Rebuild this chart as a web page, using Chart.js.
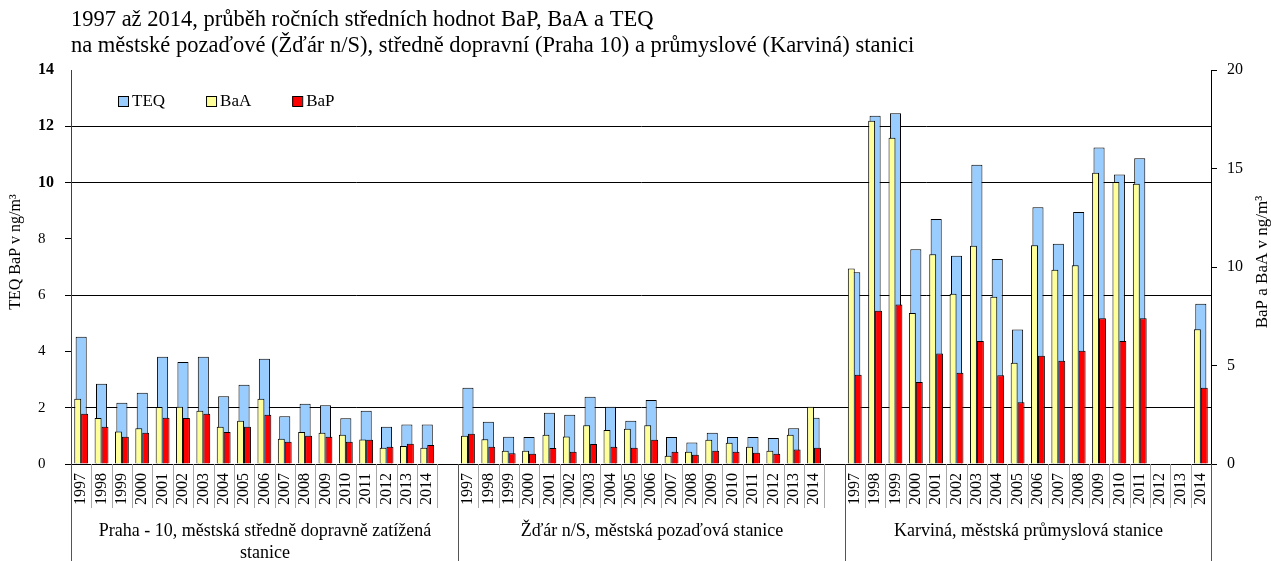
<!DOCTYPE html>
<html lang="cs">
<head>
<meta charset="UTF-8">
<title>BaP, BaA a TEQ 1997 až 2014</title>
<style>
  * { margin: 0; padding: 0; box-sizing: border-box; }
  body { background: #fff; width: 1271px; height: 561px; overflow: hidden; }
  #wrap { position: relative; width: 1271px; height: 561px; }
</style>
</head>
<body>
<div id="wrap"><canvas id="chart" width="1271" height="561"></canvas></div>
<script src="https://cdn.jsdelivr.net/npm/chart.js@4.4.1/dist/chart.umd.min.js"></script>
<script>
const years = ['1997', '1998', '1999', '2000', '2001', '2002', '2003', '2004', '2005',
  '2006', '2007', '2008', '2009', '2010', '2011', '2012', '2013', '2014'];

// station names, split into the lines they are printed on
const stations = [
  ['Praha - 10, městská středně dopravně zatížená', 'stanice'],
  ['Žďár n/S, městská pozaďová stanice'],
  ['Karviná, městská průmyslová stanice']
];

const teqPraha = [4.52, 2.85, 2.18, 2.53, 3.81, 3.62, 3.81, 2.41, 2.82, 3.74, 1.70, 2.14, 2.09, 1.63, 1.89, 1.32, 1.40, 1.40];
const baaPraha = [3.31, 2.33, 1.65, 1.82, 2.89, 2.91, 2.70, 1.89, 2.20, 3.31, 1.28, 1.62, 1.59, 1.49, 1.25, 0.83, 0.91, 0.83];
const bapPraha = [2.55, 1.89, 1.38, 1.59, 2.35, 2.33, 2.55, 1.62, 1.89, 2.50, 1.13, 1.44, 1.38, 1.13, 1.23, 0.88, 1.03, 0.96];

const teqZdar = [2.71, 1.50, 0.97, 0.96, 1.82, 1.75, 2.39, 2.03, 1.54, 2.27, 0.96, 0.76, 1.11, 0.96, 0.96, 0.92, 1.27, 1.64];
const baaZdar = [1.44, 1.26, 0.67, 0.67, 1.49, 1.39, 1.97, 1.72, 1.79, 1.97, 0.42, 0.62, 1.23, 1.08, 0.88, 0.67, 1.49, 2.91];
const bapZdar = [1.54, 0.88, 0.54, 0.52, 0.81, 0.62, 1.01, 0.88, 0.83, 1.23, 0.62, 0.47, 0.67, 0.62, 0.57, 0.52, 0.73, 0.83];

const teqKarvina = [6.81, 12.37, 12.46, 7.63, 8.71, 7.40, 10.63, 7.28, 4.78, 9.12, 7.83, 8.95, 11.25, 10.29, 10.86, null, null, 5.69];
const baaKarvina = [9.92, 17.42, 16.56, 7.66, 10.65, 8.64, 11.08, 8.49, 5.14, 11.11, 9.86, 10.09, 14.78, 14.32, 14.22, null, null, 6.84];
const bapKarvina = [4.53, 7.78, 8.10, 4.16, 5.61, 4.63, 6.24, 4.51, 3.14, 5.49, 5.24, 5.75, 7.40, 6.24, 7.40, null, null, 3.87];

const teqTicks = [0, 2, 4, 6, 8, 10, 12, 14];
const teqGridLines = [2, 6, 10, 12];   // only these have a line across the plot
const baTicks = [0, 5, 10, 15, 20];

const titleLines = [
  '1997 až 2014, průběh ročních středních hodnot BaP, BaA a TEQ',
  'na městské pozaďové (Žďár n/S), středně dopravní (Praha 10) a průmyslové (Karviná) stanici'
];
const leftTitle = 'TEQ BaP v ng/m³';
const rightTitle = 'BaP a BaA v ng/m³';

// one blank category between the stations
const labels = [];
const groupStart = [];
function joinSeries(parts) {
  const out = [];
  parts.forEach((p, i) => {
    out.push(...p);
    if (i < parts.length - 1) out.push(null);
  });
  return out;
}
stations.forEach((s, i) => {
  groupStart.push(labels.length);
  labels.push(...years);
  if (i < stations.length - 1) labels.push('');
});

const FONT = "'Liberation Serif', 'Times New Roman', serif";

const decor = {
  id: 'decor',
  afterDraw(chart) {
    const { ctx, chartArea: a, scales: { x } } = chart;
    const step = x.getPixelForValue(1) - x.getPixelForValue(0);
    const edge = i => Math.round(x.getPixelForValue(i) - step / 2) + 0.5;
    ctx.save();

    // cells round the year labels
    ctx.lineWidth = 1;
    ctx.strokeStyle = '#a8a8a8';
    for (let i = 1; i < labels.length; i++) {
      if (groupStart.includes(i)) continue;
      ctx.beginPath();
      ctx.moveTo(edge(i), a.bottom);
      ctx.lineTo(edge(i), a.bottom + 44);
      ctx.stroke();
    }
    // station separators, full height of the axis
    ctx.strokeStyle = '#555';
    const bounds = groupStart.map(edge).concat([Math.round(a.right) + 0.5]);
    bounds.forEach(b => {
      ctx.beginPath();
      ctx.moveTo(b, a.bottom);
      ctx.lineTo(b, chart.height);
      ctx.stroke();
    });

    // station names
    ctx.fillStyle = '#000';
    ctx.font = '18px ' + FONT;
    ctx.textAlign = 'center';
    ctx.textBaseline = 'middle';
    stations.forEach((lines, i) => {
      const cx = (bounds[i] + bounds[i + 1]) / 2;
      lines.forEach((t, j) => ctx.fillText(t, cx, a.bottom + 67 + j * 22));
    });

    // legend inside the plot
    ctx.font = '17px ' + FONT;
    ctx.textAlign = 'left';
    let lx = a.left + 47;
    const ly = 101;
    chart.data.datasets.forEach(ds => {
      ctx.fillStyle = ds.backgroundColor;
      ctx.fillRect(lx, ly - 5, 10, 10);
      ctx.strokeStyle = '#000';
      ctx.strokeRect(lx + 0.5, ly - 4.5, 10, 10);
      ctx.fillStyle = '#000';
      ctx.fillText(ds.label, lx + 14, ly + 1);
      lx += 14 + ctx.measureText(ds.label).width + 41;
    });

    // title
    ctx.font = '22.5px ' + FONT;
    titleLines.forEach((t, i) => ctx.fillText(t, a.left, 20 + i * 26));

    // axis titles, both read upwards
    ctx.textAlign = 'center';
    ctx.font = '16px ' + FONT;
    ctx.translate(16, 252);
    ctx.rotate(-Math.PI / 2);
    ctx.fillText(leftTitle, 0, 0);
    ctx.setTransform(1, 0, 0, 1, 0, 0);
    ctx.font = '17px ' + FONT;
    ctx.translate(1263, 262);
    ctx.rotate(-Math.PI / 2);
    ctx.fillText(rightTitle, 0, 0);
    ctx.restore();
  }
};

new Chart(document.getElementById('chart'), {
  type: 'bar',
  data: {
    labels: labels,
    datasets: [
      {
        label: 'TEQ',
        data: joinSeries([teqPraha, teqZdar, teqKarvina]),
        yAxisID: 'y',
        backgroundColor: '#99ccff',
        borderColor: '#000',
        borderWidth: 1,
        grouped: false,
        barPercentage: 0.68,
        order: 3
      },
      {
        label: 'BaA',
        data: joinSeries([baaPraha, baaZdar, baaKarvina]),
        yAxisID: 'y1',
        backgroundColor: '#ffff99',
        borderColor: '#000',
        borderWidth: 1,
        categoryPercentage: 0.68,
        barPercentage: 1,
        order: 1
      },
      {
        label: 'BaP',
        data: joinSeries([bapPraha, bapZdar, bapKarvina]),
        yAxisID: 'y1',
        backgroundColor: '#ff0000',
        borderColor: '#000',
        borderWidth: 1,
        categoryPercentage: 0.68,
        barPercentage: 1,
        order: 2
      }
    ]
  },
  options: {
    responsive: false,
    animation: false,
    layout: { padding: { top: 70, left: 38, right: 0, bottom: 0 } },
    plugins: {
      legend: { display: false },
      tooltip: { enabled: false },
      title: { display: false }
    },
    scales: {
      x: {
        grid: { display: false, drawTicks: false },
        border: { display: true, color: '#000' },
        ticks: {
          autoSkip: false,
          minRotation: 90,
          maxRotation: 90,
          padding: 9,
          color: '#000',
          font: { family: FONT, size: 16 }
        },
        afterFit: s => { s.height = 97; }
      },
      y: {
        position: 'left',
        min: 0,
        max: 14,
        afterBuildTicks: s => { s.ticks = teqTicks.map(v => ({ value: v })); },
        grid: {
          color: c => teqGridLines.includes(c.tick.value) ? '#000' : 'rgba(0,0,0,0)',
          tickColor: c => c.tick.value === 14 ? 'rgba(0,0,0,0)' : '#000',
          tickLength: 6
        },
        border: { color: '#404040' },
        ticks: {
          crossAlign: 'far',
          color: '#000',
          font: c => c.tick && c.tick.value >= 10
            ? { family: FONT, size: 16, weight: 'bold' }
            : { family: FONT, size: 15 }
        },
        afterFit: s => { s.width = 33; }
      },
      y1: {
        position: 'right',
        min: 0,
        max: 20,
        afterBuildTicks: s => { s.ticks = baTicks.map(v => ({ value: v })); },
        grid: { drawOnChartArea: false, tickColor: '#000', tickLength: 6 },
        border: { color: '#000' },
        ticks: { padding: 10, color: '#000', font: { family: FONT, size: 16 } },
        afterFit: s => { s.width = 60; }
      }
    }
  },
  plugins: [decor]
});
</script>
</body>
</html>
